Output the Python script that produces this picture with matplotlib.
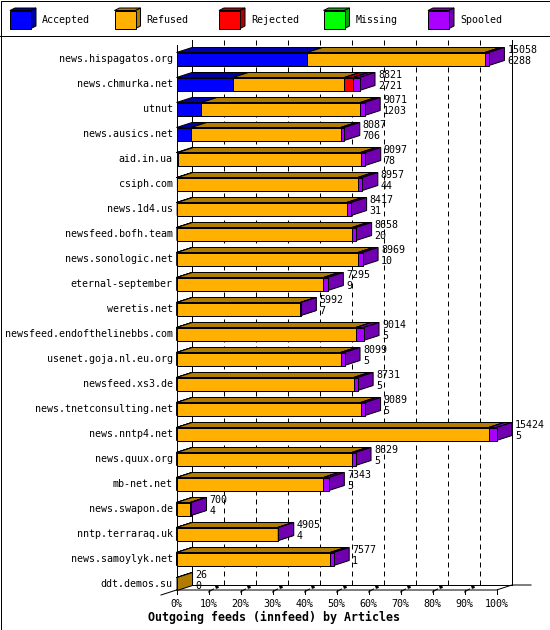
import matplotlib
matplotlib.use("Agg")
import matplotlib.pyplot as plt
from matplotlib.patches import Polygon, Rectangle

hosts = ["news.hispagatos.org", "news.chmurka.net", "utnut", "news.ausics.net",
         "aid.in.ua", "csiph.com", "news.1d4.us", "newsfeed.bofh.team",
         "news.sonologic.net", "eternal-september", "weretis.net",
         "newsfeed.endofthelinebbs.com", "usenet.goja.nl.eu.org", "newsfeed.xs3.de",
         "news.tnetconsulting.net", "news.nntp4.net", "news.quux.org", "mb-net.net",
         "news.swapon.de", "nntp.terraraq.uk", "news.samoylyk.net", "ddt.demos.su"]
offered = [15058, 8821, 9071, 8087, 9097, 8957, 8417, 8658, 8969, 7295, 5992,
           9014, 8099, 8731, 9089, 15424, 8629, 7343, 700, 4905, 7577, 26]
accepted = [6288, 2721, 1203, 706, 78, 44, 31, 20, 10, 9, 7,
            5, 5, 5, 5, 5, 5, 5, 4, 4, 1, 0]
refused = [8580, 5375, 7658, 7211, 8799, 8703, 8176, 8448, 8739, 7076, 5965,
           8639, 7904, 8536, 8874, 15049, 8444, 7078, 656, 4881, 7406, 26]
rejected = [0, 415, 0, 0, 0, 0, 0, 0, 0, 0, 0,
            0, 0, 0, 0, 0, 0, 0, 0, 0, 0, 0]
missing = [0] * 22
spooled = [190, 310, 210, 170, 220, 210, 210, 190, 220, 210, 20,
           370, 190, 190, 210, 370, 180, 260, 40, 20, 170, 0]

series_names = ["Accepted", "Refused", "Rejected", "Missing", "Spooled"]
front_colors = ["#0000ff", "#ffb000", "#ff0000", "#00ff00", "#aa00ff"]
dark_colors = ["#0000a8", "#b07c00", "#b00000", "#00a800", "#7000b0"]
pct_labels = ["0%", "10%", "20%", "30%", "40%", "50%", "60%", "70%", "80%", "90%", "100%"]
title = "Outgoing feeds (innfeed) by Articles"

W, H = 550, 630
X0 = 176.5      # pixel column of value 0
XLEN = 320.0    # pixels for the full scale
ROW0 = 59.0     # pixel row of first bar centre
PITCH = 25.0
XMAX = max(offered)
PX = XMAX / XLEN
DX = 15.5 * PX
DY = 5.0 / PITCH
BH = 13.0 / PITCH
LW = 0.72
MONO = "DejaVu Sans Mono"
FS = 7.2


def r_of(py):
    return (py - ROW0) / PITCH


fig = plt.figure(figsize=(W / 100, H / 100), dpi=100)
fig.patch.set_facecolor("white")

# decoration layer in pixel units (frame, legend, title)
deco = fig.add_axes([0, 0, 1, 1])
deco.set_xlim(0, W)
deco.set_ylim(H, 0)
deco.axis("off")

ax = fig.add_axes([0, 0, 1, 1])
ax.set_xlim(-X0 * PX, (W - X0) * PX)
ax.set_ylim(r_of(H), r_of(0))
ax.axis("off")

# outer frame + legend separator
deco.add_patch(Rectangle((0.5, 0.5), W - 1, H - 1, fill=False, ec="black", lw=LW))
deco.plot([0, W], [35.5, 35.5], color="black", lw=LW)

# legend
for i, name in enumerate(series_names):
    x = 10 + i * 104.5
    deco.add_patch(Polygon([(x, 10.5), (x + 5, 8), (x + 26, 8), (x + 21, 10.5)],
                           fc=dark_colors[i], ec="black", lw=LW))
    deco.add_patch(Polygon([(x + 21, 10.5), (x + 26, 8), (x + 26, 26), (x + 21, 28.5)],
                           fc=dark_colors[i], ec="black", lw=LW))
    deco.add_patch(Rectangle((x, 10.5), 21, 18, fc=front_colors[i], ec="black", lw=LW))
    deco.text(x + 32, 20, name, family=MONO, fontsize=FS, va="center", ha="left")

# walls, grid and floor
top_b, top_f = r_of(40), r_of(45)
floor_f, floor_b = r_of(590), r_of(585)
ax.plot([0, 0], [top_f, floor_f], color="black", lw=LW, zorder=1)
ax.plot([DX, DX], [top_b, floor_b], color="black", lw=LW, zorder=1)
ax.plot([XMAX + DX, XMAX + DX], [top_b, floor_b], color="black", lw=LW, zorder=1)
for i in range(1, 10):
    gx = i / 10 * XMAX + DX
    ax.plot([gx, gx], [top_b, floor_b], color="black", lw=LW, zorder=1,
            dashes=(5, 4))
ax.plot([0, XMAX, XMAX + DX, XMAX + DX + 19 * PX], [floor_f, floor_f, floor_b, floor_b],
        color="black", lw=LW, zorder=1)
ax.plot([DX, XMAX + DX], [floor_b, floor_b], color="black", lw=LW, zorder=1)
ax.plot([-DX, DX], [r_of(595), floor_b], color="black", lw=LW, zorder=1)
for i, lab in enumerate(pct_labels):
    tx = i / 10 * XMAX
    ax.plot([tx, tx], [floor_f, r_of(594)], color="black", lw=LW, zorder=1)
    if 0 < i < 10:
        ax.plot([tx, tx + 5 * PX], [r_of(592), r_of(589)], color="black", lw=LW, zorder=1)
        ax.plot([tx + 7 * PX, tx + 10 * PX], [r_of(587.5), r_of(586.5)],
                color="black", lw=2.2, zorder=1, solid_capstyle="butt")
    ax.text(tx, r_of(604), lab, family=MONO, fontsize=FS, ha="center", va="center")

deco.text(148, 617, title, family=MONO, fontsize=8.4, fontweight="bold",
          ha="left", va="center")

# bars
series = [accepted, refused, rejected, missing, spooled]
for r, host in enumerate(hosts):
    left = 0
    top = r - BH / 2
    bot = r + BH / 2
    for k, vals in enumerate(series):
        w = vals[r]
        if w <= 0:
            continue
        right = left + w
        ax.add_patch(Polygon([(left, top), (right, top), (right + DX, top - DY), (left + DX, top - DY)],
                             fc=dark_colors[k], ec="black", lw=LW, zorder=3))
        ax.add_patch(Polygon([(right, top), (right, bot), (right + DX, bot - DY), (right + DX, top - DY)],
                             fc=dark_colors[k], ec="black", lw=LW, zorder=3))
        ax.barh(r, w, left=left, height=BH, color=front_colors[k], edgecolor="black",
                linewidth=LW, zorder=3)
        left = right
    ax.text(-4 * PX, r, host, family=MONO, fontsize=FS, ha="right", va="center")
    tx = left + DX + 3 * PX
    ax.text(tx, r - 9.5 / PITCH, str(offered[r]), family=MONO, fontsize=FS,
            ha="left", va="center", zorder=4)
    ax.text(tx, r + 2 / PITCH, str(accepted[r]), family=MONO, fontsize=FS,
            ha="left", va="center", zorder=4)

fig.savefig("out.png", dpi=100)
